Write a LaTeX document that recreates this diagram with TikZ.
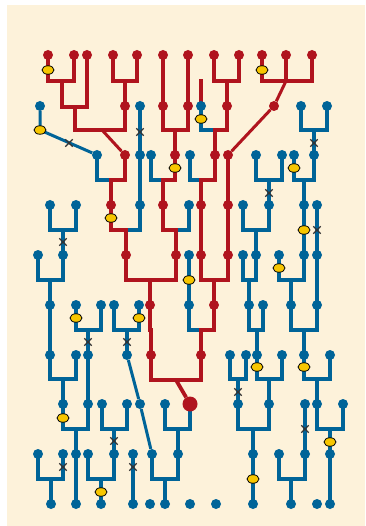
\documentclass[tikz,border=0pt]{standalone}
\usepackage{tikz}
\usepackage{xcolor}
\usetikzlibrary{shapes.geometric,shapes.misc}
\definecolor{genred}{RGB}{176,20,30}
\definecolor{genblue}{RGB}{0,100,152}
\definecolor{gencream}{RGB}{253,242,218}
\definecolor{genyellow}{RGB}{247,198,0}
\pgfdeclarelayer{bg}
\pgfsetlayers{bg,main}

\begin{document}
\begin{tikzpicture}[
    x=1pt,y=-1pt,
    rdot/.style={circle,fill=genred,inner sep=0pt,minimum size=10pt},
    bdot/.style={circle,fill=genblue,inner sep=0pt,minimum size=10pt},
    bigdot/.style={rdot,minimum size=15pt},
    rline/.style={draw=genred,line width=4.6pt,line cap=rect},
    bline/.style={draw=genblue,line width=4.6pt,line cap=rect},
    slim/.style={line width=3pt,line cap=butt},
    lk/.style={to path={|- ([yshift=25pt]\tikztotarget.center) -- (\tikztotarget)}},
    mut/.style={ellipse,minimum width=12pt,minimum height=8.5pt,inner sep=0pt,
      fill=genyellow,draw=black,line width=0.8pt},
    hit/.style={cross out,draw=black!80,line width=1.3pt,minimum size=6pt,inner sep=0pt}
  ]
    \useasboundingbox (0,0) rectangle (365,526);

    \foreach \n/\x in {A1/48,A2/74,A3/87,A4/113,A5/137,A6/163,A7/188,A8/214,A9/239,A10/262,A11/286,A12/312}
      \node[rdot] (\n) at (\x,55) {};
    \foreach \n/\x/\s in {B1/40/bdot,B2/125/rdot,B3/140/bdot,B4/163/rdot,B5/188/rdot,B6/201/bdot,
        B7/227/rdot,B8/274/rdot,B9/301/bdot,B10/327/bdot}
      \node[\s] (\n) at (\x,106) {};
    \foreach \n/\x/\s in {C1/97/bdot,C2/125/rdot,C3/140/bdot,C4/151/bdot,C5/175/rdot,C6/190/bdot,
        C7/215/rdot,C8/228/rdot,C9/256/bdot,C10/282/bdot,C11/294/bdot,C12/314/bdot}
      \node[\s] (\n) at (\x,155) {};
    \foreach \n/\x/\s in {D1/50/bdot,D2/76/bdot,D3/111/rdot,D4/140/bdot,D5/163/rdot,D6/189/bdot,
        D7/201/rdot,D8/228/rdot,D9/243/bdot,D10/269/bdot,D11/304/bdot,D12/317/bdot}
      \node[\s] (\n) at (\x,205) {};
    \foreach \n/\x/\s in {E1/38/bdot,E2/63/bdot,E3/126/rdot,E4/176/rdot,E5/189/bdot,E6/201/rdot,
        E7/228/rdot,E8/243/bdot,E9/256/bdot,E10/279/bdot,E11/304/bdot,E12/317/bdot}
      \node[\s] (\n) at (\x,255) {};
    \foreach \n/\x/\s in {F1/50/bdot,F2/76/bdot,F3/101/bdot,F4/114/bdot,F5/139/bdot,F6/150/rdot,
        F7/189/bdot,F8/214/rdot,F9/249/bdot,F10/263/bdot,F11/291/bdot,F12/317/bdot}
      \node[\s] (\n) at (\x,305) {};
    \foreach \n/\x/\s in {G1/50/bdot,G2/76/bdot,G3/88/bdot,G4/127/bdot,G5/151/rdot,G6/201/rdot,
        G7/230/bdot,G8/246/bdot,G9/257/bdot,G10/282/bdot,G11/304/bdot,G12/330/bdot}
      \node[\s] (\n) at (\x,355) {};
    \foreach \n/\x/\s in {H1/63/bdot,H2/88/bdot,H3/102/bdot,H4/127/bdot,H5/140/bdot,H6/165/bdot,
        H7/190/bigdot,H8/238/bdot,H9/269/bdot,H10/305/bdot,H11/317/bdot,H12/343/bdot}
      \node[\s] (\n) at (\x,404) {};
    \foreach \n/\x in {I1/38,I2/63,I3/76,I4/88,I5/114,I6/133,I7/152,I8/178,I9/253,I10/279,I11/305,I12/330}
      \node[bdot] (\n) at (\x,454) {};
    \foreach \n/\x in {J1/51,J2/76,J3/101,J4/133,J5/150,J6/165,J7/190,J8/216,J9/253,J10/291,J11/317,J12/330}
      \node[bdot] (\n) at (\x,504) {};

    \coordinate (ja) at (62,81);
    \coordinate (jb) at (62,107);
    \coordinate (jc) at (75,130);
    \coordinate (jd) at (102,130);
    \coordinate (je) at (40,130);
    \coordinate (jk) at (286,81);
    \coordinate (js) at (201,81);
    \coordinate (jh) at (176,380);

    \begin{pgfonlayer}{bg}
      \fill[gencream] (7,5) rectangle (365,526);
      \draw[bline] (B3) to[lk] (C3) (B9) to[lk] (C12) (B10) to[lk] (C12) (B6) to[lk] (C7)
        (C1) to[lk] (D3) (C3) to[lk] (D4) (C4) to[lk] (D5) (C6) to[lk] (D7)
        (C9) to[lk] (D10) (C10) to[lk] (D10) (C11) to[lk] (D11) (C12) to[lk] (D11)
        (D1) to[lk] (E2) (D2) to[lk] (E2) (D4) to[lk] (E3) (D6) to[lk] (E4)
        (D9) to[lk] (E9) (D10) to[lk] (E9) (D11) to[lk] (E11) (D12) to[lk] (E12)
        (E1) to[lk] (F1) (E2) to[lk] (F1) (E5) to[lk] (F7) (E8) to[lk] (F9)
        (E9) to[lk] (F9) (E10) to[lk] (F11) (E11) to[lk] (F11) (E12) to[lk] (F12)
        (F1) to[lk] (G1) (F2) to[lk] (G3) (F3) to[lk] (G3) (F4) to[lk] (G4) (F5) to[lk] (G4)
        (F7) to[lk] (G6) (F9) to[lk] (G9) (F10) to[lk] (G9) (F11) to[lk] (G11) (F12) to[lk] (G11)
        (G1) to[lk] (H1) (G2) to[lk] (H1) (G3) to[lk] (H2) (G7) to[lk] (H8) (G8) to[lk] (H8)
        (G9) to[lk] (H9) (G10) to[lk] (H9) (G11) to[lk] (H11) (G12) to[lk] (H11)
        (H1) to[lk] (I3) (H2) to[lk] (I3) (H3) to[lk] (I5) (H4) to[lk] (I5) (H6) to[lk] (I8)
        (H7) to[lk] (I8) (H8) to[lk] (I9) (H9) to[lk] (I9) (H10) to[lk] (I11) (H11) to[lk] (I12)
        (H12) to[lk] (I12)
        (I1) to[lk] (J1) (I2) to[lk] (J1) (I3) to[lk] (J2) (I4) to[lk] (J3) (I5) to[lk] (J3)
        (I6) to[lk] (J4) (I7) to[lk] (J6) (I8) to[lk] (J6) (I9) to[lk] (J9) (I10) to[lk] (J10)
        (I11) to[lk] (J10) (I12) to[lk] (J12);
      \draw[bline,slim] (B1) -- (je) -- (C1);
      \draw[bline,slim] (G4) -- (H5) -- (I7);

      \draw[rline] (A4) to[lk] (B2) (A5) to[lk] (B2) (A6) to[lk] (B4) (A7) to[lk] (B5)
        (A8) to[lk] (B7) (A9) to[lk] (B7)
        (B4) to[lk] (C5) (B5) to[lk] (C5) (B7) to[lk] (C7)
        (C2) to[lk] (D3) (C5) to[lk] (D5) (C7) to[lk] (D7) (C8) to[lk] (D8)
        (D3) to[lk] (E3) (D5) to[lk] (E4) (D7) to[lk] (E6) (D8) to[lk] (E7)
        (E3) to[lk] (F6) (E4) to[lk] (F6) (E6) to[lk] (F8) (E7) to[lk] (F8)
        (F6) to[lk] (G5) (F8) to[lk] (G6);
      \draw[rline] (A1) |- (ja) -- (jb) -| (jc) -- (jd) (A2) |- (ja) (A3) |- (jb) (B2) |- (jd);
      \draw[rline,slim] (jd) -- (C2);
      \draw[rline] (A10) |- (jk) (A12) |- (jk) (A11) -- (jk);
      \draw[rline,slim] (jk) -- (B8) -- (C8);
      \draw[rline] (js) -- (B6);
      \draw[rline] (G5) |- (jh) (G6) |- (jh);
      \draw[rline,slim,line width=3.8pt] (jh) -- (H7);
    \end{pgfonlayer}

    \foreach \x/\y [count=\i] in {48/70,262/70,40/130,201/119,175/168,294/168,111/218,304/230,
        279/268,189/280,76/318,139/318,257/367,304/367,63/418,330/442,253/479,101/492}
      \node[mut] (mu\i) at (\x,\y) {};
    \foreach \x/\y [count=\i] in {69/143,140/132,314/143,269/193,63/242,317/230,88/342,127/342,
        238/392,114/441,305/429,63/467,133/467}
      \node[hit] (hx\i) at (\x,\y) {};
  \end{tikzpicture}
\end{document}
